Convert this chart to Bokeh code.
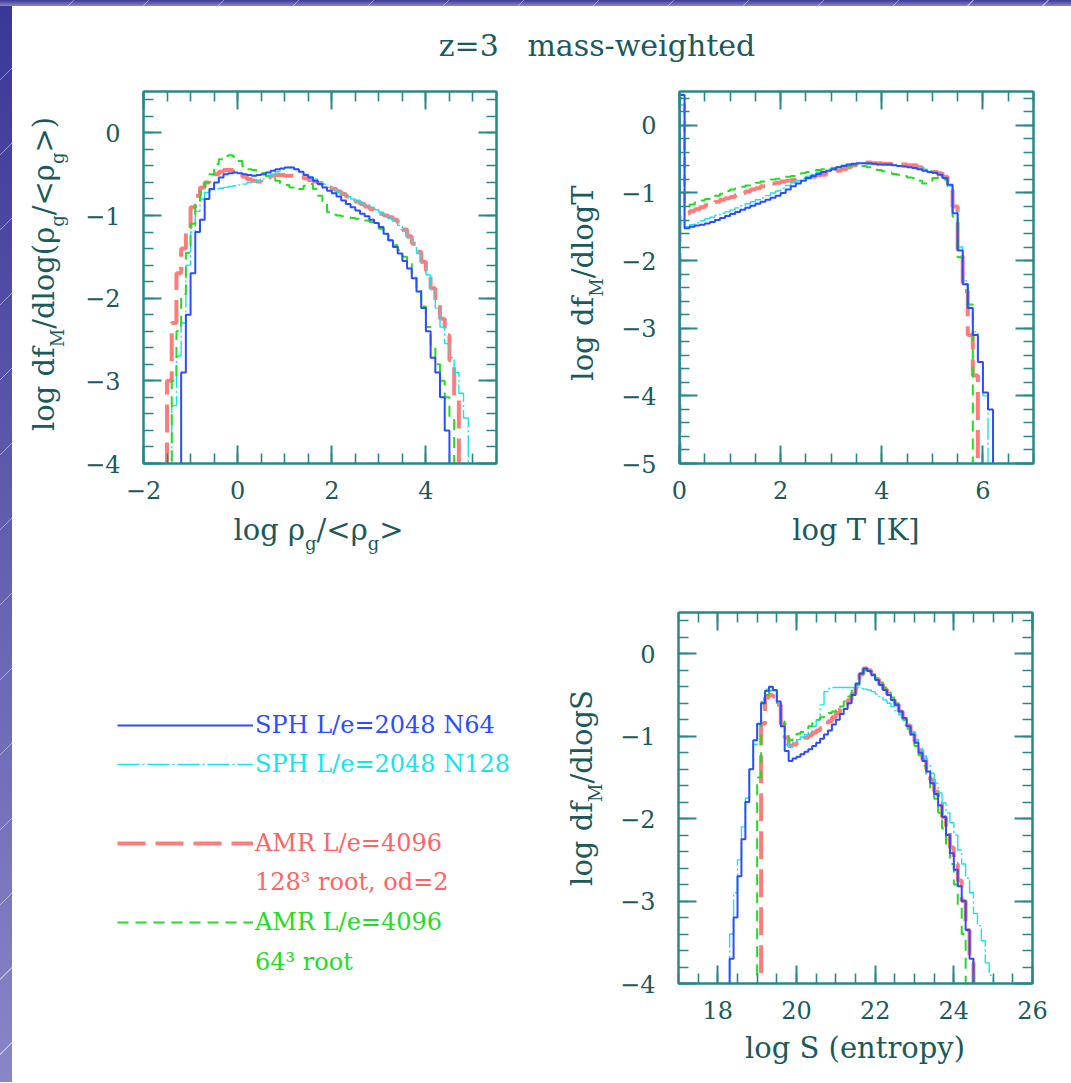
from bokeh.plotting import figure
from bokeh.models import (Range1d, LinearAxis, SingleIntervalTicker, Legend, LegendItem,
                          Spacer, CustomJSTickFormatter, Div)
from bokeh.layouts import column, row
from bokeh.embed import file_html
from bokeh.resources import INLINE

FONT = "DejaVu Serif"
TEXT = "#1a5a5a"
AXIS = "#2b8787"

# ---------------- data (log of mass-weighted distribution per 0.1 dex bin) ----------------
# -9 marks empty bins (below the plotted range)
rho_lo, rho_w = -1.8, 0.1
rho_blue = [-9, -9, -9, -9, -9, -9, -2.9, -2.2, -1.7, -1.2, -1.05, -0.8, -0.68, -0.6, -0.54, -0.5, -0.49, -0.48,
            -0.49, -0.5, -0.51, -0.52, -0.51, -0.5, -0.48, -0.46, -0.44, -0.43,
            -0.42, -0.42, -0.44, -0.47, -0.51, -0.54, -0.58, -0.62, -0.66, -0.7,
            -0.73, -0.77, -0.82, -0.86, -0.9, -0.94, -0.98, -1.01, -1.05, -1.09,
            -1.14, -1.22, -1.3, -1.38, -1.46, -1.55, -1.64, -1.76, -1.92, -2.12,
            -2.4, -2.72, -2.9, -3.2, -3.6, -9, -9, -9, -9, -9]
rho_cyan = [-9, -9, -9, -9, -3.3, -2.7, -2.3, -1.6, -1.2, -0.95, -0.8, -0.72, -0.7, -0.68, -0.67, -0.66, -0.65, -0.64,
            -0.63, -0.62, -0.6, -0.59, -0.58, -0.56, -0.53, -0.5, -0.47, -0.44,
            -0.42, -0.42, -0.44, -0.47, -0.5, -0.53, -0.56, -0.59, -0.62, -0.66,
            -0.69, -0.72, -0.75, -0.77, -0.8, -0.82, -0.84, -0.87, -0.9, -0.93,
            -0.96, -0.99, -1.03, -1.07, -1.12, -1.19, -1.27, -1.36, -1.46, -1.58,
            -1.72, -1.9, -2.12, -2.35, -2.55, -2.72, -2.9, -3.15, -3.45, -9]
rho_red = [-9, -9, -9, -3.0, -2.3, -1.7, -1.4, -1.15, -0.9, -0.76, -0.66, -0.6, -0.55, -0.5, -0.47, -0.45, -0.45, -0.47,
           -0.5, -0.53, -0.56, -0.58, -0.59, -0.57, -0.54, -0.52, -0.51, -0.51,
           -0.52, -0.52, -0.53, -0.54, -0.55, -0.57, -0.59, -0.61, -0.63, -0.66,
           -0.68, -0.71, -0.74, -0.77, -0.8, -0.83, -0.86, -0.89, -0.92, -0.95,
           -0.98, -1.0, -1.02, -1.05, -1.1, -1.17, -1.25, -1.34, -1.44, -1.56,
           -1.68, -1.88, -2.08, -2.25, -2.45, -2.75, -3.2, -9, -9, -9]
rho_green = [-9, -9, -9, -9, -3.0, -2.4, -1.95, -1.45, -1.1, -0.85, -0.7, -0.6, -0.5, -0.38, -0.32, -0.28, -0.27, -0.29,
             -0.34, -0.4, -0.44, -0.45, -0.46, -0.49, -0.52, -0.55, -0.58, -0.61,
             -0.63, -0.66, -0.69, -0.68, -0.64, -0.62, -0.68, -0.76, -0.86, -0.96,
             -0.99, -1.0, -1.01, -1.02, -1.03, -1.04, -1.05, -1.06, -1.08, -1.1,
             -1.16, -1.23, -1.3, -1.36, -1.42, -1.5, -1.58, -1.72, -1.88, -2.1,
             -2.35, -2.6, -2.8, -3.0, -3.2, -3.45, -9, -9, -9, -9]

t_lo, t_w = -0.1, 0.1
t_blue = [-9, 0.45, -1.52, -1.5, -1.48, -1.47, -1.45, -1.43, -1.4, -1.37, -1.34,
          -1.31, -1.28, -1.25, -1.22, -1.19, -1.16, -1.13, -1.1, -1.07, -1.04,
          -1.0, -0.95, -0.9, -0.86, -0.82, -0.78, -0.75, -0.72, -0.69, -0.67,
          -0.65, -0.62, -0.6, -0.58, -0.57, -0.56, -0.56, -0.56, -0.57, -0.58,
          -0.58, -0.58, -0.59, -0.6, -0.61, -0.62, -0.63, -0.65, -0.67, -0.69,
          -0.7, -0.73, -0.78, -0.88, -1.3, -1.85, -2.35, -2.7, -3.1, -3.5,
          -3.95, -4.2, -9]
t_cyan = [-9, 0.3, -1.5, -1.47, -1.44, -1.41, -1.38, -1.36, -1.33, -1.3, -1.28,
          -1.25, -1.22, -1.19, -1.16, -1.13, -1.1, -1.07, -1.04, -1.0, -0.97,
          -0.93, -0.89, -0.85, -0.82, -0.79, -0.76, -0.73, -0.7, -0.67, -0.65,
          -0.63, -0.61, -0.59, -0.58, -0.57, -0.56, -0.56, -0.57, -0.57, -0.58,
          -0.58, -0.59, -0.59, -0.6, -0.61, -0.62, -0.63, -0.64, -0.65, -0.67,
          -0.69, -0.72, -0.77, -0.9, -1.25, -1.8, -2.3, -2.7, -3.05, -3.5,
          -4.0, -9, -9]
t_red = [-9, -1.33, -1.3, -1.27, -1.24, -1.21, -1.18, -1.16, -1.13, -1.1, -1.08,
         -1.06, -1.03, -1.0, -0.98, -0.95, -0.93, -0.9, -0.88, -0.86, -0.85,
         -0.83, -0.82, -0.81, -0.8, -0.78, -0.77, -0.76, -0.74, -0.73, -0.71,
         -0.69, -0.67, -0.65, -0.62, -0.59, -0.56, -0.55, -0.55, -0.56, -0.56,
         -0.57, -0.57, -0.58, -0.58, -0.58, -0.59, -0.59, -0.62, -0.65, -0.67,
         -0.69, -0.71, -0.76, -0.85, -1.2, -1.85, -2.45, -3.1, -3.7, -9,
         -9, -9, -9]
t_green = [-9, 0.4, -1.2, -1.17, -1.14, -1.11, -1.09, -1.07, -1.04, -1.01, -0.97,
           -0.95, -0.93, -0.91, -0.89, -0.87, -0.85, -0.83, -0.81, -0.8, -0.79,
           -0.78, -0.76, -0.75, -0.73, -0.71, -0.69, -0.68, -0.66, -0.65, -0.64,
           -0.63, -0.62, -0.61, -0.6, -0.59, -0.58, -0.6, -0.62, -0.64, -0.66,
           -0.68, -0.7, -0.72, -0.73, -0.75, -0.77, -0.78, -0.82, -0.86, -0.82,
           -0.78, -0.77, -0.8, -0.9, -1.35, -1.95, -2.35, -2.65, -9, -9,
           -9, -9, -9]

s_lo, s_w = 18.2, 0.1
s_blue = [-9, -3.7, -3.2, -2.7, -2.25, -1.8, -1.4, -1.05, -0.85, -0.6,
          -0.45, -0.4, -0.44, -0.58, -0.88, -1.18, -1.3, -1.27, -1.25, -1.22,
          -1.19, -1.16, -1.12, -1.08, -1.03, -0.98, -0.93, -0.86, -0.8, -0.73,
          -0.67, -0.6, -0.5, -0.36, -0.24, -0.18, -0.21, -0.26, -0.32, -0.38,
          -0.44, -0.5, -0.56, -0.62, -0.7, -0.78, -0.88, -0.98, -1.08, -1.2,
          -1.3, -1.43, -1.57, -1.7, -1.84, -1.98, -2.2, -2.42, -2.62, -2.82,
          -3.0, -3.35, -3.7, -9, -9, -9, -9, -9, -9, -9]
s_cyan = [-9, -3.4, -2.9, -2.5, -2.1, -1.75, -1.4, -1.1, -0.85, -0.58,
          -0.43, -0.41, -0.45, -0.6, -0.88, -1.1, -1.12, -1.07, -1.04, -1.01,
          -0.98, -0.94, -0.88, -0.8, -0.62, -0.46, -0.42, -0.41, -0.41, -0.41,
          -0.41, -0.41, -0.41, -0.41, -0.42, -0.43, -0.44, -0.46, -0.49, -0.52,
          -0.56, -0.6, -0.64, -0.69, -0.74, -0.8, -0.87, -0.95, -1.04, -1.14,
          -1.24, -1.34, -1.45, -1.57, -1.69, -1.81, -1.93, -2.05, -2.2, -2.38,
          -2.55, -2.72, -2.9, -3.15, -3.3, -3.48, -3.75, -3.9, -9, -9]
s_red = [-9, -9, -9, -9, -9, -9, -9, -9, -9, -0.85,
         -0.53, -0.5, -0.52, -0.62, -0.85, -1.02, -1.12, -1.1, -1.08, -1.05,
         -1.02, -0.99, -0.96, -0.93, -0.9, -0.86, -0.82, -0.77, -0.72, -0.67,
         -0.62, -0.56, -0.49, -0.42, -0.25, -0.18, -0.2, -0.26, -0.31, -0.37,
         -0.43, -0.49, -0.56, -0.62, -0.7, -0.78, -0.87, -0.96, -1.06, -1.17,
         -1.28, -1.4, -1.53, -1.67, -1.82, -1.98, -2.16, -2.35, -2.55, -2.75,
         -3.0, -3.35, -3.75, -9, -9, -9, -9, -9, -9, -9]
s_green = [-9, -9, -9, -9, -9, -9, -9, -9, -1.5, -0.6,
           -0.5, -0.45, -0.48, -0.6, -0.82, -0.98, -1.05, -1.0, -0.97, -0.95,
           -0.92, -0.88, -0.84, -0.8, -0.77, -0.74, -0.72, -0.7, -0.68, -0.64,
           -0.58, -0.52, -0.45, -0.38, -0.25, -0.2, -0.21, -0.25, -0.3, -0.35,
           -0.41, -0.47, -0.53, -0.6, -0.69, -0.8, -0.91, -1.02, -1.12, -1.23,
           -1.36, -1.5, -1.63, -1.76, -1.93, -2.12, -2.35, -2.55, -2.8, -3.05,
           -3.4, -9, -9, -9, -9, -9, -9, -9, -9, -9]

series_names = ["red", "cyan", "green", "blue"]   # drawing order
legend_rows = [
    ("blue", [("SPH L/e=2048 N64", "blue")]),
    ("cyan", [("SPH L/e=2048 N128", "cyan")]),
    ("red", [("AMR L/e=4096", "red"), ("128\u00b3 root, od=2", None)]),
    ("green", [("AMR L/e=4096", "green"), ("64\u00b3 root", None)]),
]

STYLES = {
    "blue": dict(line_color="#2c4cff", line_width=2.0),
    "cyan": dict(line_color="#14e4f0", line_width=1.4, line_dash="22 3 2 3"),
    "red": dict(line_color="#ff6e6e", line_width=4.0, line_dash="28 10", line_alpha=0.9),
    "green": dict(line_color="#22dd22", line_width=2.0, line_dash="11 7"),
}
TEXT_COLORS = {"blue": "#2c4cff", "cyan": "#14e4f0", "red": "#ff6464", "green": "#22dd22"}

BG = ("repeating-linear-gradient(135deg, rgba(255,255,255,0) 0px, rgba(255,255,255,0) 52px, "
      "rgba(255,255,255,0.45) 52px, rgba(255,255,255,0.45) 53px), "
      "linear-gradient(180deg, #3b3796 0%, #6a67b4 60%, #8886c6 100%)")

LABEL_SIZE = 29


def sub(t):
    return '<span style="font-size:18px;position:relative;top:10px;">%s</span>' % t


def label_div(w, h, x, y, html, vertical=False, size=LABEL_SIZE):
    base = 0.846 * size          # baseline distance from the top of the line box
    common = ("position:absolute;white-space:nowrap;font-family:'DejaVu Serif';"
              "font-size:%dpx;line-height:%dpx;color:%s;" % (size, size, TEXT))
    if vertical:
        cx = x - (base - size / 2.0)
        inner = ('<div style="%sleft:%.1fpx;top:%.1fpx;transform:translate(-50%%,-50%%) rotate(-90deg);">%s</div>'
                 % (common, cx, y, html))
    else:
        inner = ('<div style="%sleft:%.1fpx;top:%.1fpx;transform:translateX(-50%%);">%s</div>'
                 % (common, x, y - base, html))
    return Div(text='<div style="position:relative;width:%dpx;height:%dpx;">%s</div>' % (w, h, inner),
               width=w, height=h, margin=0)


def centers(lo, w, n):
    return [round(lo + w * (i + 0.5), 4) for i in range(n)]


MINUS_FMT = "return tick < 0 ? '\\u2212' + String(Math.abs(tick)) : String(tick)"


def panel(xr, yr, fw, fh, bl, br, bt, bb, xint, xminor, yint, yminor):
    p = figure(x_range=Range1d(*xr), y_range=Range1d(*yr), frame_width=fw, frame_height=fh,
               min_border_left=bl, min_border_right=br, min_border_top=bt, min_border_bottom=bb,
               output_backend="svg", toolbar_location=None,
               outline_line_color=AXIS, outline_line_width=2,
               background_fill_color="white", border_fill_color="white")
    p.grid.visible = False
    xt = SingleIntervalTicker(interval=xint, num_minor_ticks=xminor)
    yt = SingleIntervalTicker(interval=yint, num_minor_ticks=yminor)
    top = LinearAxis(ticker=xt, formatter=CustomJSTickFormatter(code="return ''"))
    right = LinearAxis(ticker=yt, formatter=CustomJSTickFormatter(code="return ''"))
    p.add_layout(top, "above")
    p.add_layout(right, "right")
    p.xaxis.ticker = xt
    p.yaxis.ticker = yt
    p.below[0].formatter = CustomJSTickFormatter(code=MINUS_FMT)
    p.left[0].formatter = CustomJSTickFormatter(code=MINUS_FMT)
    for ax in p.axis:
        ax.axis_line_color = AXIS
        ax.axis_line_width = 2
        ax.major_tick_line_color = AXIS
        ax.major_tick_line_width = 2
        ax.minor_tick_line_color = AXIS
        ax.minor_tick_line_width = 1.6
        ax.major_tick_in = 18
        ax.major_tick_out = 0
        ax.minor_tick_in = 10
        ax.minor_tick_out = 0
        ax.major_label_text_font = FONT
        ax.major_label_text_font_size = "24px"
        ax.major_label_text_color = TEXT
    p.below[0].major_label_standoff = 17
    p.left[0].major_label_standoff = 23
    top.major_label_standoff = 0
    right.major_label_standoff = 0
    return p


def draw(p, lo, w, data):
    for name in series_names:
        vals = data[name]
        p.step(centers(lo, w, len(vals)), vals, mode="center", **STYLES[name])


# ---------------- header ----------------
header = label_div(1050, 60, 585, 50, "z=3&nbsp;&nbsp;&nbsp;mass-weighted", size=30)

# ---------------- panel A: density ----------------
pA = panel((-2, 5.5), (-4, 0.5), 353, 372, 60, 73, 25, 50, 2, 4, 1, 5)
draw(pA, rho_lo, rho_w, {"blue": rho_blue, "cyan": rho_cyan, "red": rho_red, "green": rho_green})
xA = label_div(486, 53, 236.5, 27, "log \u03c1" + sub("g") + "/&lt;\u03c1" + sub("g") + "&gt;")
yA = label_div(70, 500, 44, 207.5, "log df" + sub("M") + "/dlog(\u03c1" + sub("g") + "/&lt;\u03c1"
               + sub("g") + "&gt;)", vertical=True)

# ---------------- panel B: temperature ----------------
pB = panel((0, 7), (-5, 0.5), 354, 372, 64, 30, 25, 50, 2, 4, 1, 5)
draw(pB, t_lo, t_w, {"blue": t_blue, "cyan": t_cyan, "red": t_red, "green": t_green})
xB = label_div(448, 53, 241, 27, "log T [K]")
yB = label_div(46, 500, 26, 216.5, "log df" + sub("M") + "/dlogT", vertical=True)

# ---------------- panel C: entropy ----------------
pC = panel((17, 26), (-4, 0.5), 354, 371, 64, 30, 46, 50, 2, 4, 1, 5)
draw(pC, s_lo, s_w, {"blue": s_blue, "cyan": s_cyan, "red": s_red, "green": s_green})
xC = label_div(448, 33, 241, 25, "log S (entropy)")
yC = label_div(46, 500, 26, 222, "log df" + sub("M") + "/dlogS", vertical=True)

# ---------------- legend ----------------
pL = figure(width=556, height=467, x_range=Range1d(0, 1), y_range=Range1d(0, 1),
            x_axis_type=None, y_axis_type=None, min_border_left=0, min_border_right=0,
            min_border_top=46, min_border_bottom=50, outline_line_color=None,
            toolbar_location=None, output_backend="svg")
legend_locs = {"blue": ((105, 240), 3), "cyan": ((105, 201.5), 3),
               "red": ((105, 83), 3), "green": ((105, 3), 4)}
nan = float("nan")
for key, rows_ in legend_rows:
    items = []
    for lab, style in rows_:
        if style is None:
            r = pL.line([nan], [nan], line_alpha=0)
        else:
            r = pL.line([nan], [nan], **STYLES[style])
        items.append(LegendItem(label=lab, renderers=[r]))
    loc, sp = legend_locs[key]
    pL.add_layout(Legend(items=items, location=loc, orientation="vertical", glyph_width=136,
                         glyph_height=36, label_height=36, label_standoff=2, spacing=sp,
                         padding=0, margin=0, border_line_alpha=0, background_fill_alpha=0,
                         label_text_font=FONT, label_text_font_size="24px",
                         label_text_color=TEXT_COLORS[key]))

row1 = row(yA, column(pA, xA), yB, column(pB, xB))
row2 = row(pL, yC, column(pC, xC))
inner = column(header, row1, row2)
outer = column(Spacer(width=1071, height=6, margin=0, styles={"background": BG}),
               row(Spacer(width=12, height=1076, margin=0, styles={"background": BG}), inner))

open("out.html", "w").write(file_html(outer, INLINE))
